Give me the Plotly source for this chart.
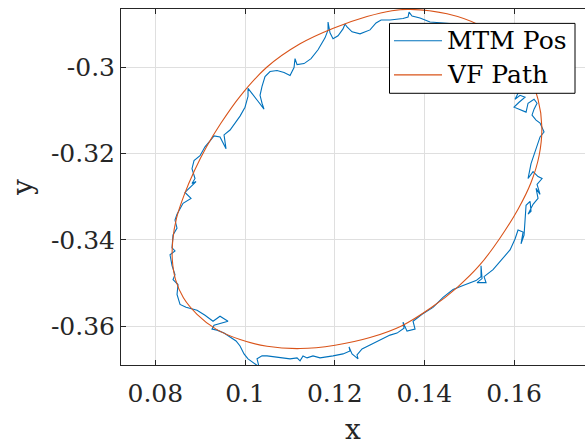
import plotly.graph_objects as go

# ---------------- data ----------------
mtm_x = [0.14125, 0.13902, 0.13724, 0.13657, 0.13635, 0.13523, 0.13233, 0.13033, 0.12921, 0.12787,
         0.12564, 0.12386, 0.12275, 0.12230, 0.12185, 0.12074, 0.11962, 0.11895, 0.11851, 0.11851,
         0.11784, 0.11628, 0.11472, 0.11316, 0.11160, 0.11115, 0.11093, 0.11004, 0.10870, 0.10714,
         0.10558, 0.10446, 0.10379, 0.10335, 0.10379, 0.10424, 0.10290, 0.10156, 0.10067, 0.10067,
         0.10000, 0.09889, 0.09777, 0.09666, 0.09532, 0.09577, 0.09443, 0.09309, 0.09220, 0.09108,
         0.08997, 0.08863, 0.08818, 0.08885, 0.08818, 0.08908, 0.08707, 0.08662, 0.08796, 0.08618,
         0.08484, 0.08439, 0.08484, 0.08395, 0.08373, 0.08439, 0.08328, 0.08373, 0.08439, 0.08395,
         0.08506, 0.08484, 0.08551, 0.08685, 0.08930, 0.09108, 0.09287, 0.09443, 0.09621, 0.09487,
         0.09309, 0.09264, 0.09376, 0.09532, 0.09666, 0.09800, 0.09889, 0.09978, 0.10067, 0.10201,
         0.10312, 0.10268, 0.10379, 0.10491, 0.10781, 0.11004, 0.11160, 0.11227, 0.11293, 0.11383,
         0.11516, 0.11672, 0.11962, 0.12185, 0.12341, 0.12319, 0.12386, 0.12520, 0.12497, 0.12609,
         0.12787, 0.13010, 0.13233, 0.13389, 0.13545, 0.13523, 0.13612, 0.13791, 0.13746, 0.13947,
         0.14192, 0.14415, 0.14638, 0.14861, 0.15151, 0.15262, 0.15262, 0.15285, 0.15173, 0.15374,
         0.15329, 0.15530, 0.15753, 0.15909, 0.16020, 0.16087, 0.16199, 0.16154, 0.16221, 0.16243,
         0.16266, 0.16355, 0.16377, 0.16310, 0.16422, 0.16533, 0.16489, 0.16578, 0.16511, 0.16623,
         0.16533, 0.16422, 0.16310, 0.16377, 0.16489, 0.16578, 0.16667, 0.16578, 0.16489, 0.16399,
         0.16444, 0.16511, 0.16444, 0.16310, 0.16266, 0.15998, 0.16110, 0.16243, 0.16132, 0.16020,
         0.16132, 0.16243, 0.15797, 0.15017, 0.14125]
mtm_y = [-0.28951, -0.28859, -0.28813, -0.28721, -0.28836, -0.28870, -0.28905, -0.28905, -0.28974, -0.29134,
         -0.29226, -0.29180, -0.29066, -0.28997, -0.29111, -0.29272, -0.29341, -0.29203, -0.28951, -0.29134,
         -0.29318, -0.29594, -0.29800, -0.29915, -0.29938, -0.29800, -0.30007, -0.30191, -0.30122, -0.30076,
         -0.30099, -0.30214, -0.30443, -0.30650, -0.30834, -0.30971, -0.30788, -0.30604, -0.30489, -0.30673,
         -0.30925, -0.31132, -0.31293, -0.31454, -0.31568, -0.31890, -0.31614, -0.31591, -0.31706, -0.31844,
         -0.32051, -0.32165, -0.32349, -0.32579, -0.32694, -0.32648, -0.32854, -0.32900, -0.33038, -0.33153,
         -0.33405, -0.33543, -0.33727, -0.33888, -0.34186, -0.34255, -0.34347, -0.34599, -0.34806, -0.34921,
         -0.35036, -0.35265, -0.35495, -0.35564, -0.35633, -0.35747, -0.35885, -0.35770, -0.35885, -0.35931,
         -0.35977, -0.36069, -0.36092, -0.36161, -0.36253, -0.36344, -0.36459, -0.36643, -0.36758, -0.36850,
         -0.36941, -0.36758, -0.36689, -0.36689, -0.36735, -0.36758, -0.36735, -0.36804, -0.36689, -0.36735,
         -0.36689, -0.36735, -0.36689, -0.36643, -0.36574, -0.36482, -0.36643, -0.36758, -0.36666, -0.36528,
         -0.36436, -0.36322, -0.36207, -0.36161, -0.36046, -0.35908, -0.36115, -0.36069, -0.35885, -0.35725,
         -0.35564, -0.35334, -0.35150, -0.35059, -0.34944, -0.34852, -0.34599, -0.34898, -0.34990, -0.34990,
         -0.34852, -0.34691, -0.34416, -0.34232, -0.33979, -0.33773, -0.33819, -0.34094, -0.33888, -0.33497,
         -0.33199, -0.33107, -0.33337, -0.33405, -0.33176, -0.33038, -0.32808, -0.32946, -0.32716, -0.32579,
         -0.32533, -0.32418, -0.32579, -0.32234, -0.31890, -0.31614, -0.31500, -0.31293, -0.31224, -0.31109,
         -0.30971, -0.30834, -0.30742, -0.30834, -0.31040, -0.30925, -0.30811, -0.30696, -0.30650, -0.30742,
         -0.30512, -0.30053, -0.29364, -0.29020, -0.28951]

vf_x = [0.13679, 0.14504, 0.15240, 0.15864, 0.16288, 0.16533, 0.16618, 0.16556, 0.16377, 0.16087,
        0.15686, 0.15240, 0.14727, 0.14147, 0.13501, 0.12787, 0.12007, 0.11227, 0.10491, 0.09889,
        0.09354, 0.08930, 0.08627, 0.08451, 0.08379, 0.08390, 0.08473, 0.08640, 0.08874, 0.09142,
        0.09465, 0.09889, 0.10484, 0.11227, 0.11969, 0.12720, 0.13278, 0.13679]
vf_y = [-0.28659, -0.28762, -0.29031, -0.29479, -0.30099, -0.30742, -0.31385, -0.32051, -0.32671, -0.33290,
        -0.33956, -0.34576, -0.35105, -0.35575, -0.35989, -0.36264, -0.36441, -0.36519, -0.36466, -0.36310,
        -0.36069, -0.35725, -0.35343, -0.34921, -0.34462, -0.34002, -0.33497, -0.32969, -0.32395, -0.31844,
        -0.31293, -0.30673, -0.30000, -0.29456, -0.29095, -0.28824, -0.28689, -0.28659]

x_ticks = [0.08, 0.1, 0.12, 0.14, 0.16]
x_tick_labels = ["0.08", "0.1", "0.12", "0.14", "0.16"]
y_ticks = [-0.36, -0.34, -0.32, -0.3]
y_tick_labels = ["-0.36", "-0.34", "-0.32", "-0.3"]
series_names = ["MTM Pos", "VF Path"]
x_title = "x"
y_title = "y"

# ---------------- style ----------------
BLUE = "#0072BD"
ORANGE = "#D95319"
AXIS = "#262626"
GRID = "#dfdfdf"
FONT = "DejaVu Serif"

fig = go.Figure()
fig.add_trace(go.Scatter(x=mtm_x, y=mtm_y, mode="lines", name=series_names[0],
                         line=dict(color=BLUE, width=1.1), showlegend=False))
fig.add_trace(go.Scatter(x=vf_x, y=vf_y, mode="lines", name=series_names[1],
                         line=dict(color=ORANGE, width=1.1, shape="spline", smoothing=1.0),
                         showlegend=False))

W, H = 585, 446
L, R, T, B = 121, 0, 9, 78
pw, ph = W - L - R, H - T - B


def px(xp):
    return (xp - L) / pw


def py(yp):
    return (H - B - yp) / ph


# legend drawn as box + sample lines + text
shapes = [
    dict(type="rect", xref="paper", yref="paper", x0=px(389.5), x1=px(575), y0=py(94), y1=py(23.5),
         fillcolor="white", line=dict(color="black", width=1), layer="above"),
    dict(type="line", xref="paper", yref="paper", x0=px(394), x1=px(442), y0=py(41), y1=py(41),
         line=dict(color=BLUE, width=1.2), layer="above"),
    dict(type="line", xref="paper", yref="paper", x0=px(394), x1=px(442), y0=py(75.5), y1=py(75.5),
         line=dict(color=ORANGE, width=1.2), layer="above"),
]
annotations = [
    dict(xref="paper", yref="paper", x=px(445), y=py(41), text=series_names[0], showarrow=False,
         xanchor="left", yanchor="middle", font=dict(family=FONT, size=25, color="black")),
    dict(xref="paper", yref="paper", x=px(445), y=py(75.5), text=series_names[1], showarrow=False,
         xanchor="left", yanchor="middle", font=dict(family=FONT, size=25, color="black")),
]

fig.update_layout(
    width=W, height=H,
    margin=dict(l=L, r=R, t=T, b=B, pad=0),
    paper_bgcolor="white", plot_bgcolor="white",
    font=dict(family=FONT, size=25, color=AXIS),
    shapes=shapes, annotations=annotations,
    showlegend=False,
)
fig.update_xaxes(
    range=[0.07235, 0.1758], tickmode="array", tickvals=x_ticks, ticktext=x_tick_labels,
    showgrid=True, gridcolor=GRID, gridwidth=1, zeroline=False,
    showline=True, linecolor=AXIS, linewidth=1, mirror="ticks",
    ticks="inside", ticklen=5, tickcolor=AXIS, tickwidth=1,
    tickfont=dict(family=FONT, size=25, color=AXIS), ticklabelstandoff=6,
    title=dict(text=x_title, font=dict(family=FONT, size=28, color=AXIS), standoff=18),
)
fig.update_yaxes(
    range=[-0.369, -0.2865], tickmode="array", tickvals=y_ticks, ticktext=y_tick_labels,
    showgrid=True, gridcolor=GRID, gridwidth=1, zeroline=False,
    showline=True, linecolor=AXIS, linewidth=1, mirror=False,
    ticks="inside", ticklen=5, tickcolor=AXIS, tickwidth=1,
    tickfont=dict(family=FONT, size=25, color=AXIS), ticklabelstandoff=0,
    title=dict(text=y_title, font=dict(family=FONT, size=28, color=AXIS), standoff=10),
)

fig.write_html("out.html")
